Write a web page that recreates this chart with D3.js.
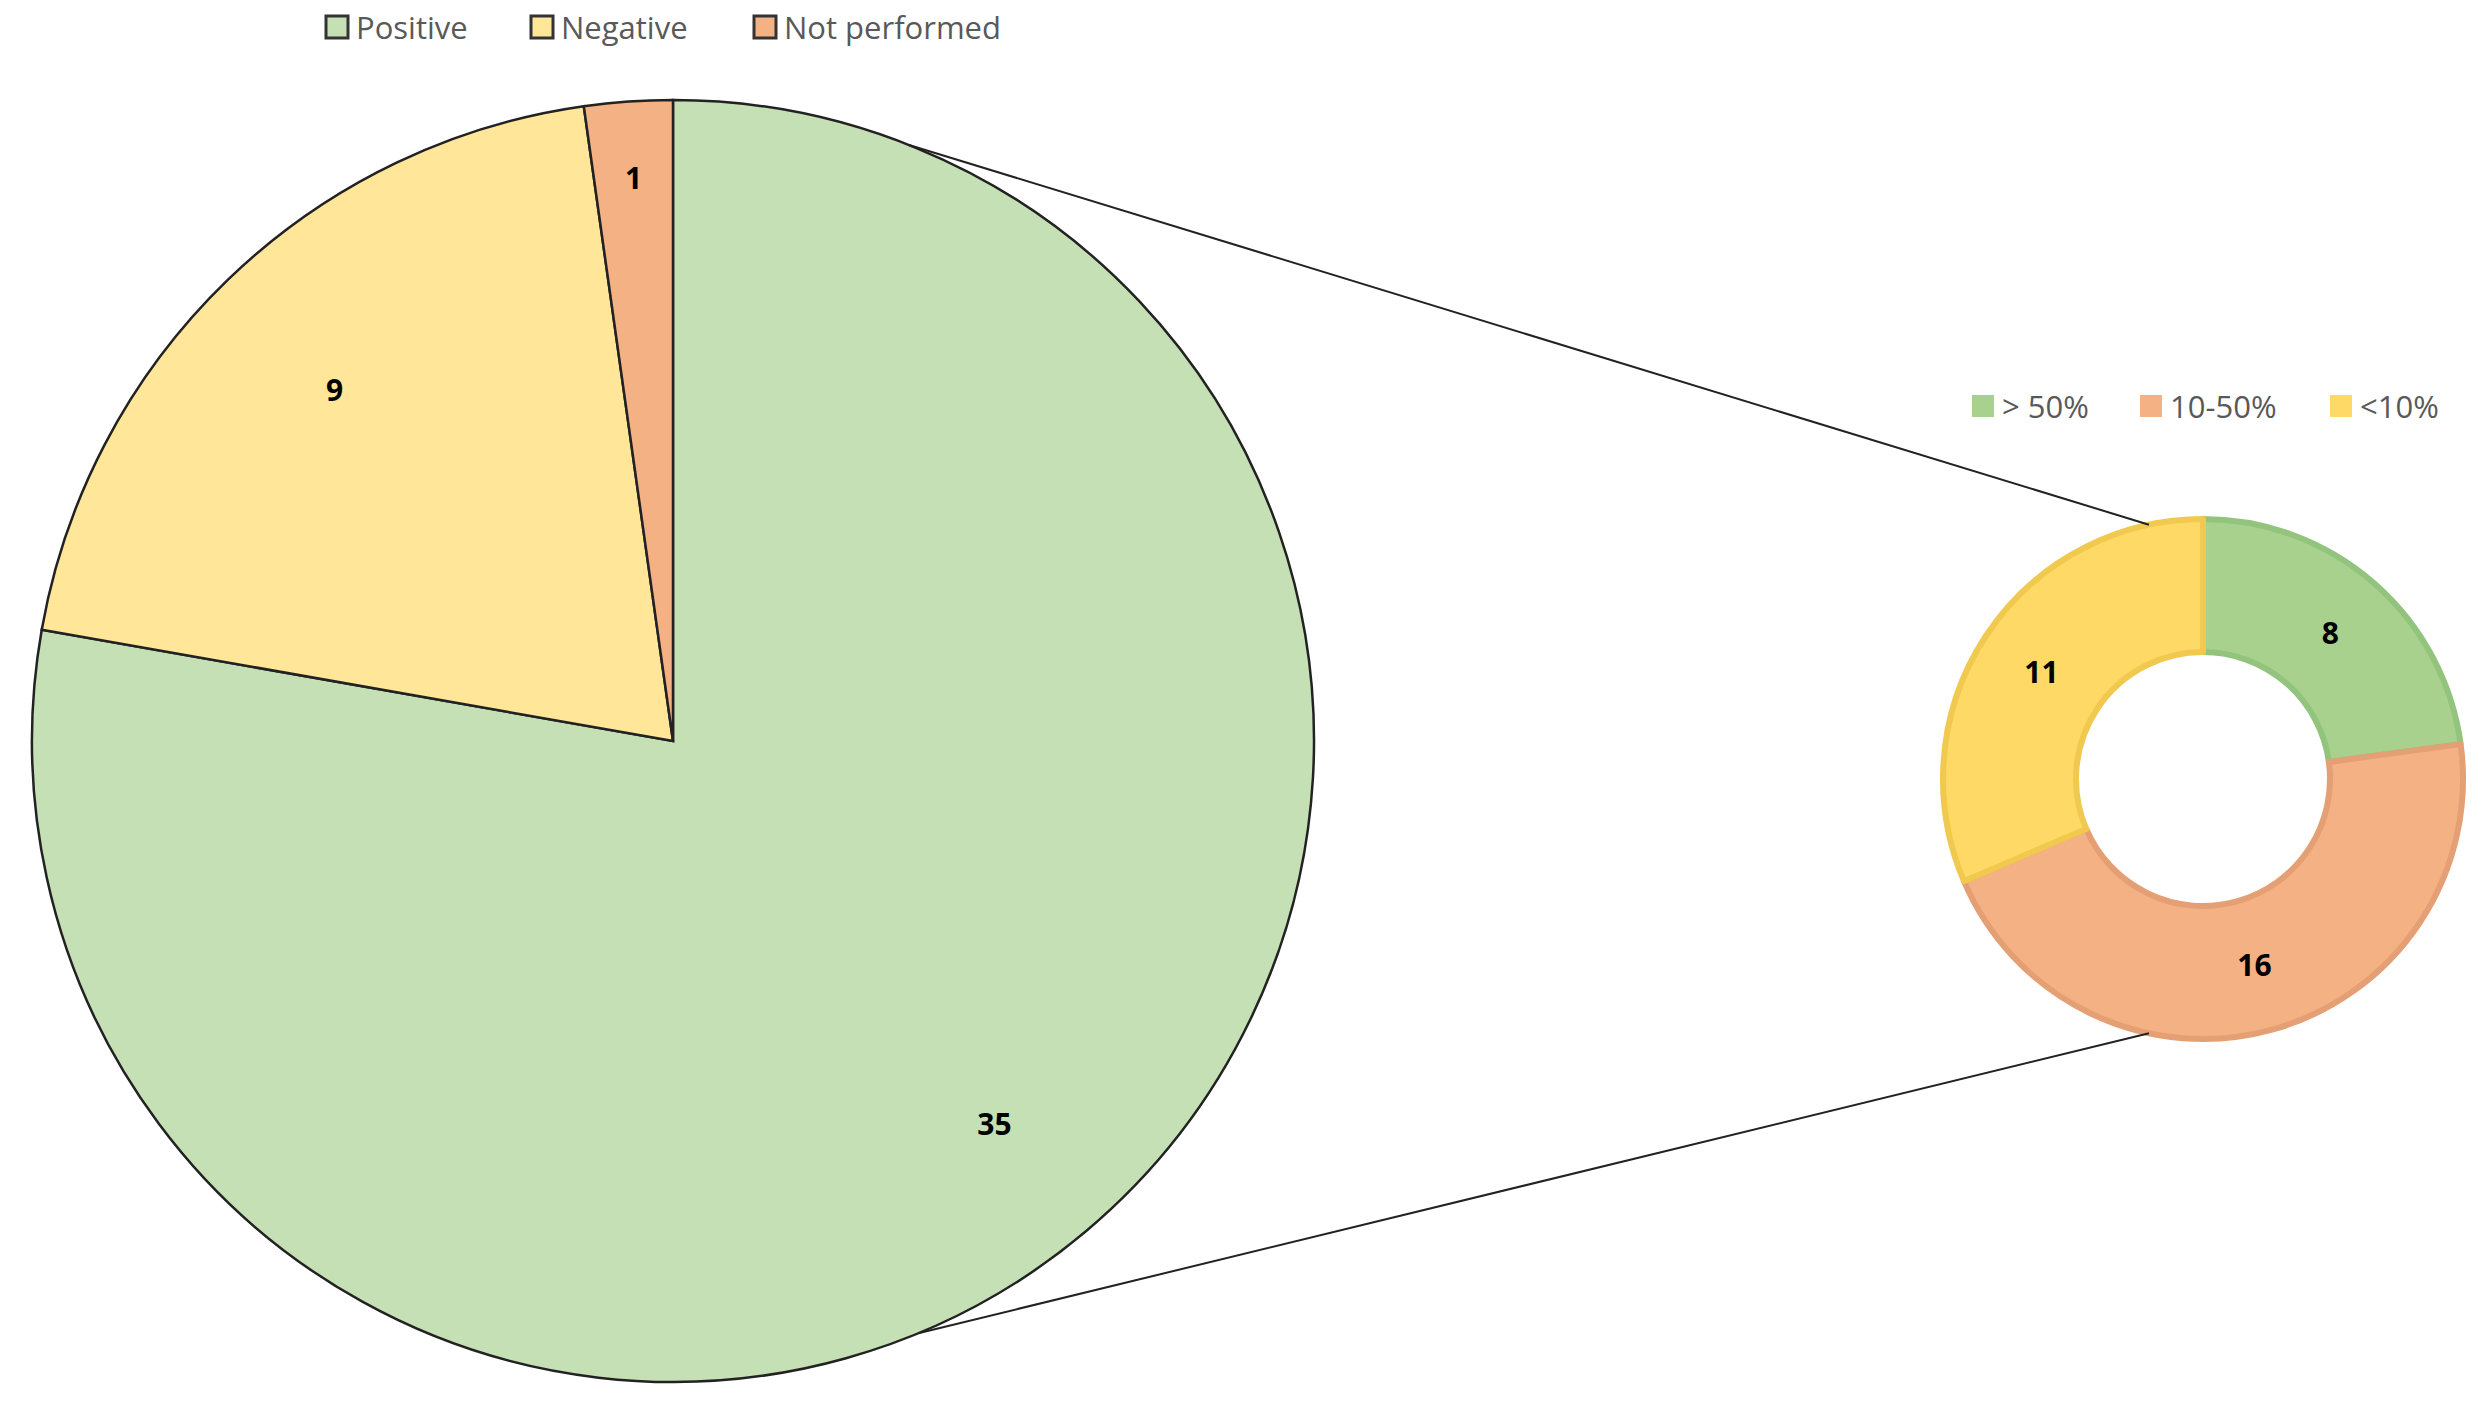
<!DOCTYPE html><html><head><meta charset="utf-8">
<script src="https://cdn.jsdelivr.net/npm/d3@7"></script>
<style>body{margin:0;background:#fff}</style></head><body>
<svg id="c" width="2482" height="1420"></svg>
<script>
const mainCats=["Positive","Negative","Not performed"];
const mainVals=[35,9,1];
const mainColors=["#c5e0b4","#ffe699","#f4b183"];
const subCats=["> 50%","10-50%","<10%"];
const subVals=[8,16,11];
const subColors=["#a9d18e","#f4b183","#ffd966"];
const subStroke=["#93c47d","#e59f75","#f0c94e"];

const svg=d3.select("#c");
const font="'Open Sans', sans-serif";
const P={cx:673,cy:741,r:641}, D={cx:2203,cy:779,r:260,ir:127};

const pie=d3.pie().sort(null).value(d=>d);
const mA=pie(mainVals), sA=pie(subVals);
const arcM=d3.arc().innerRadius(0).outerRadius(P.r);
const gM=svg.append("g").attr("transform",`translate(${P.cx},${P.cy})`);
gM.selectAll("path").data(mA).join("path").attr("d",arcM)
 .attr("fill",(d,i)=>mainColors[i]).attr("stroke","#222").attr("stroke-width",2.5);
const lblM=[[0.82,0.62],[0.7,0.75],[0.88,0.5]];
gM.selectAll("text").data(mA).join("text")
 .attr("transform",(d,i)=>{const a=(d.startAngle+d.endAngle)/2,rr=P.r*[0.78,0.76,0.88][i];return `translate(${Math.sin(a)*rr},${-Math.cos(a)*rr})`;})
 .attr("text-anchor","middle").attr("dy","0.35em").attr("font-family",font).attr("font-weight","bold").attr("font-size",30).text(d=>d.data);

const arcS=d3.arc().innerRadius(D.ir).outerRadius(D.r);
const gS=svg.append("g").attr("transform",`translate(${D.cx},${D.cy})`);
gS.selectAll("path").data(sA).join("path").attr("d",arcS)
 .attr("fill",(d,i)=>subColors[i]).attr("stroke",(d,i)=>subStroke[i]).attr("stroke-width",6).attr("stroke-linejoin","round");
gS.selectAll("text").data(sA).join("text")
 .attr("transform",d=>{const a=(d.startAngle+d.endAngle)/2,rr=(D.r+D.ir)/2;return `translate(${Math.sin(a)*rr},${-Math.cos(a)*rr})`;})
 .attr("text-anchor","middle").attr("dy","0.35em").attr("font-family",font).attr("font-weight","bold").attr("font-size",30).text(d=>d.data);

// connector lines
const deg=Math.PI/180;
const pt=(c,r,a)=>[c.cx+Math.sin(a*deg)*r,c.cy-Math.cos(a*deg)*r];
[[21.6,348],[157.5,192]].forEach(([a,b])=>{
 const p=pt(P,P.r,a),q=pt(D,D.r,b);
 svg.append("line").attr("x1",p[0]).attr("y1",p[1]).attr("x2",q[0]).attr("y2",q[1]).attr("stroke","#222").attr("stroke-width",2);
});

// legends
function legend(cats,cols,xs,y,border){
 cats.forEach((c,i)=>{
  svg.append("rect").attr("x",xs[i]).attr("y",y-12).attr("width",22).attr("height",22)
   .attr("fill",cols[i]).attr("stroke",border?"#333":"none").attr("stroke-width",3);
  svg.append("text").attr("x",xs[i]+30).attr("y",y).attr("dy","0.35em").attr("font-family",font)
   .attr("font-size",31).attr("fill","#595959").text(c);
 });
}
legend(mainCats,mainColors,[326,531,754],28,true);
legend(subCats,subColors,[1972,2140,2330],407,false);
</script></body></html>
